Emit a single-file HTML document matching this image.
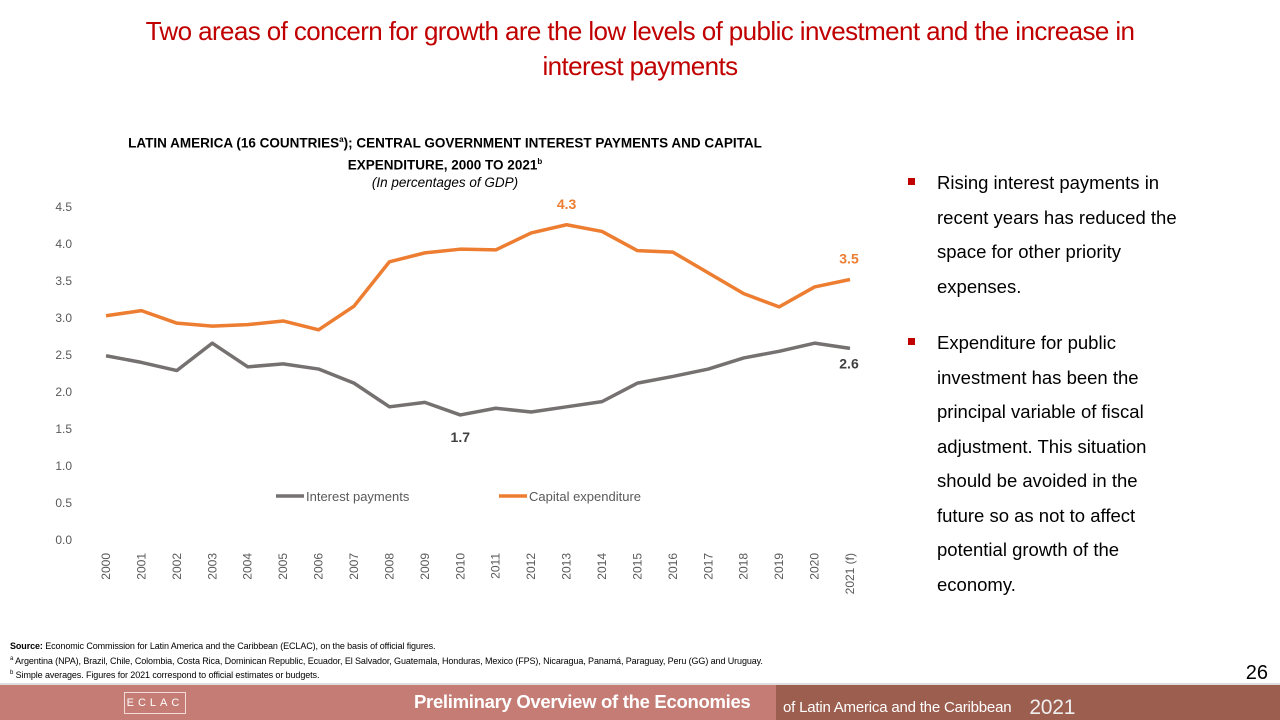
<!DOCTYPE html>
<html><head><meta charset="utf-8"><style>
body{margin:0;width:1280px;height:720px;position:relative;background:#fff;font-family:"Liberation Sans",sans-serif;overflow:hidden}
.t{position:absolute;left:30px;width:1220px;top:14px;text-align:center;color:#c00000;font-size:26px;line-height:35px;letter-spacing:-0.6px}
.ct{position:absolute;left:60px;width:770px;top:131px;text-align:center;font-weight:bold;font-size:13.5px;line-height:18px}
.bul{position:absolute;left:908px;top:166px;width:360px;font-size:18.5px;line-height:34.5px;color:#000;white-space:nowrap}
.bul div{position:relative;padding-left:29px}
.bul div:before{content:"";position:absolute;left:0;top:12px;width:7px;height:7px;background:#c00000}
.src{position:absolute;left:10px;top:640px;font-size:9px;line-height:12.5px;letter-spacing:-0.1px}
</style></head><body>
<div class="t">Two areas of concern for growth are the low levels of public investment and the increase in<br>interest payments</div>
<div class="ct">LATIN AMERICA (16 COUNTRIES<sup style="font-size:8px">a</sup>); CENTRAL GOVERNMENT INTEREST PAYMENTS AND CAPITAL<br>EXPENDITURE, 2000 TO 2021<sup style="font-size:8px">b</sup><br><i style="font-weight:normal">(In percentages of GDP)</i></div>
<svg id="ch" width="1280" height="720" style="position:absolute;left:0;top:0"></svg>
<div class="bul">
<div>Rising interest payments in<br>recent years has reduced the<br>space for other priority<br>expenses.</div>
<div style="margin-top:22px">Expenditure for public<br>investment has been the<br>principal variable of fiscal<br>adjustment. This situation<br>should be avoided in the<br>future so as not to affect<br>potential growth of the<br>economy.</div>
</div>
<div class="src"><b>Source:</b> Economic Commission for Latin America and the Caribbean (ECLAC), on the basis of official figures.<br><sup style="font-size:6px">a</sup> Argentina (NPA), Brazil, Chile, Colombia, Costa Rica, Dominican Republic, Ecuador, El Salvador, Guatemala, Honduras, Mexico (FPS), Nicaragua, Panamá, Paraguay, Peru (GG) and Uruguay.<br><sup style="font-size:6px">b</sup> Simple averages. Figures for 2021 correspond to official estimates or budgets.</div>
<div style="position:absolute;right:12px;top:662px;font-size:20px">26</div>
<div style="position:absolute;left:0;top:683px;width:1280px;height:2px;background:#ddd"></div>
<div style="position:absolute;left:0;top:685px;width:776px;height:35px;background:#c47c75"></div>
<div style="position:absolute;left:776px;top:685px;width:504px;height:35px;background:#9c5f4f"></div>
<div style="position:absolute;left:124px;top:692px;width:60px;height:20px;border:1px solid #f0dcd8;color:#fff;font-size:11px;letter-spacing:4px;text-align:center;line-height:20px">ECLAC</div>
<div style="position:absolute;left:414px;top:691px;color:#fff;font-size:18.5px;font-weight:bold;white-space:nowrap;letter-spacing:-0.3px">Preliminary Overview of the Economies</div>
<div style="position:absolute;left:783px;top:694px;color:#fff;font-size:15px;white-space:nowrap;letter-spacing:-0.2px">of Latin America and the Caribbean <span style="font-size:21px;margin-left:14px;color:#eee;position:relative;top:2px">2021</span></div>
<script>
const years=["2000","2001","2002","2003","2004","2005","2006","2007","2008","2009","2010","2011","2012","2013","2014","2015","2016","2017","2018","2019","2020","2021 (f)"];
const interest=[2.49,2.40,2.29,2.66,2.34,2.38,2.31,2.12,1.80,1.86,1.69,1.78,1.73,1.80,1.87,2.12,2.21,2.31,2.46,2.55,2.66,2.59];
const capital=[3.03,3.10,2.93,2.89,2.91,2.96,2.84,3.16,3.76,3.88,3.93,3.92,4.15,4.26,4.17,3.91,3.89,3.61,3.33,3.15,3.42,3.52];
const yTicks=[0,0.5,1,1.5,2,2.5,3,3.5,4,4.5];
const svg=document.getElementById('ch');const NS='http://www.w3.org/2000/svg';
const x=i=>106+i*(850-106)/21, y=v=>540-v*74;
function mk(t,a,txt){const e=document.createElementNS(NS,t);for(const k in a)e.setAttribute(k,a[k]);if(txt!=null)e.textContent=txt;svg.appendChild(e);return e;}
yTicks.forEach(v=>{const e=mk('text',{x:72,y:y(v)+4,'text-anchor':'end','font-size':12,fill:'#595959'},v.toFixed(1));

});
years.forEach((yr,i)=>{const e=mk('text',{transform:`translate(${x(i)+4},${553}) rotate(-90)`,'text-anchor':'end','font-size':12,fill:'#595959'},yr);

});
function line(d,c,n){const p=mk('polyline',{points:d.map((v,i)=>x(i)+','+y(v)).join(' '),fill:'none',stroke:c,'stroke-width':3.5,'stroke-linejoin':'round'});

}
line(interest,'#767171','interest-payments-line');
line(capital,'#ed7d31','capital-expenditure-line');
function lab(xx,yy,t,c){const e=mk('text',{x:xx,y:yy,'text-anchor':'middle','font-size':14,'font-weight':'bold',fill:c},t);

}
lab(x(13),y(capital[13])-16,capital[13].toFixed(1),'#ed7d31');
lab(x(21)-1,y(capital[21])-16,capital[21].toFixed(1),'#ed7d31');
lab(x(21)-1,y(interest[21])+20,interest[21].toFixed(1),'#404040');
lab(x(10),y(interest[10])+27,interest[10].toFixed(1),'#404040');
[[276,'#767171','Interest payments'],[499,'#ed7d31','Capital expenditure']].forEach(([lx,c,t])=>{
const l=mk('line',{x1:lx,x2:lx+28,y1:496,y2:496,stroke:c,'stroke-width':3.5});


const e=mk('text',{x:lx+30,y:501,'font-size':13,fill:'#595959'},t);

});
</script>
</body></html>
